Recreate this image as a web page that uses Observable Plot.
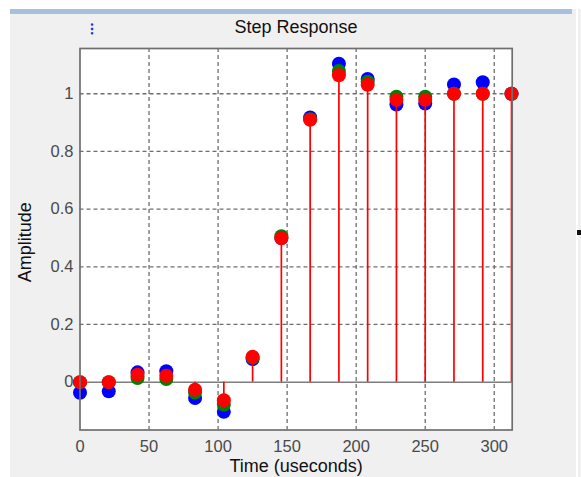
<!DOCTYPE html>
<html>
<head>
<meta charset="utf-8">
<script src="https://cdn.jsdelivr.net/npm/d3@7"></script>
<script src="https://cdn.jsdelivr.net/npm/@observablehq/plot@0.6"></script>
<style>
  html, body { margin: 0; padding: 0; background: #ffffff; }
  body { width: 581px; height: 477px; overflow: hidden; position: relative; font-family: "Liberation Sans", Arial, sans-serif; }
  #panel { position: absolute; left: 10px; top: 9px; width: 566px; height: 468px; background: #f0f0f0; }
  #bar { position: absolute; left: 10px; top: 9px; width: 562px; height: 5px; background: #a9c0dc; }
  #rstrip { position: absolute; left: 578px; top: 9px; width: 3px; height: 468px; background: #f0f0f0; }
  #rmark { position: absolute; left: 577px; top: 230px; width: 4px; height: 5px; background: #111; }
  #glyph { position: absolute; left: 90px; top: 21px; font-size: 15px; font-weight: bold; color: #1f2fe0; line-height: 16px; }
  #chart { position: absolute; left: 0; top: 0; }
</style>
</head>
<body>
<div id="panel"></div>
<div id="bar"></div>
<div id="rstrip"></div>
<div id="rmark"></div>
<div id="glyph">⁝</div>
<div id="chart"></div>
<script>
// ---- data ----
const times = [0, 20.83, 41.67, 62.5, 83.33, 104.17, 125, 145.83, 166.67, 187.5, 208.33, 229.17, 250, 270.83, 291.67, 312.5];
const blueValues  = [-0.037, -0.032, 0.034, 0.038, -0.055, -0.103, 0.080, 0.500, 0.918, 1.104, 1.051, 0.963, 0.966, 1.032, 1.040, 1.000];
const greenValues = [0.000, 0.000, 0.014, 0.011, -0.036, -0.078, 0.085, 0.506, 0.912, 1.079, 1.042, 0.990, 0.990, 1.000, 1.000, 1.000];
const redValues   = [0.000, 0.000, 0.026, 0.022, -0.026, -0.063, 0.088, 0.499, 0.910, 1.064, 1.031, 0.979, 0.979, 1.000, 1.000, 1.000];
const xTicks = [0, 50, 100, 150, 200, 250, 300];
const yTicks = [0, 0.2, 0.4, 0.6, 0.8, 1];
const xTickLabels = ["0", "50", "100", "150", "200", "250", "300"];
const yTickLabels = ["0", "0.2", "0.4", "0.6", "0.8", "1"];
const titleText = "Step Response";
const xLabel = "Time (useconds)";
const yLabel = "Amplitude";

const series = [
  {name: "blue", color: "#0000ff", values: blueValues, stems: false},
  {name: "green", color: "#008000", values: greenValues, stems: false},
  {name: "red", color: "#ff0000", values: redValues, stems: true}
];
const rows = s => times.map((t, i) => ({t, v: s.values[i]}));

// blue and green stems lie fully under the red ones in the reference, so only red stems are drawn
const seriesMarks = series.flatMap(s => [
  ...(s.stems ? [Plot.ruleX(rows(s), {x: "t", y1: 0, y2: "v", stroke: s.color, strokeWidth: 1.7})] : []),
  Plot.dot(rows(s), {x: "t", y: "v", r: 7, fill: s.color, stroke: "none"})
]);

const font = "'Liberation Sans', Arial, sans-serif";

const chart = Plot.plot({
  width: 581,
  height: 477,
  marginLeft: 79.5,
  marginRight: 69.3,
  marginTop: 48,
  marginBottom: 47.5,
  style: {background: "transparent", fontFamily: font, overflow: "visible"},
  x: {domain: [0, 313]},
  y: {domain: [-0.166, 1.157]},
  marks: [
    Plot.frame({fill: "white", stroke: "none"}),
    Plot.gridX(xTicks.filter(d => d > 0), {stroke: "#6e6e6e", strokeOpacity: 1, strokeWidth: 1.3, strokeDasharray: "4,3"}),
    Plot.gridY(yTicks.filter(d => d > 0), {stroke: "#6e6e6e", strokeOpacity: 1, strokeWidth: 1.3, strokeDasharray: "4,3"}),
    Plot.ruleY([0], {stroke: "#7d7d7d", strokeWidth: 1.5}),
    ...seriesMarks,
    Plot.frame({stroke: "#6f6f6f", strokeWidth: 1.7}),
    Plot.axisX(xTicks, {tickSize: 0, tickPadding: 10, fontSize: 16.5, fill: "#4a4a4a", tickFormat: (d, i) => xTickLabels[i], label: null}),
    Plot.axisY(yTicks, {tickSize: 0, tickPadding: 6.5, fontSize: 16.5, fill: "#4a4a4a", tickFormat: (d, i) => yTickLabels[i], label: null}),
    Plot.text([titleText], {frameAnchor: "top", lineAnchor: "middle", textAnchor: "middle", dy: -21, fontSize: 18, fill: "#111", text: d => d}),
    Plot.text([xLabel], {frameAnchor: "bottom", lineAnchor: "middle", textAnchor: "middle", dy: 36.5, fontSize: 18, fill: "#111", text: d => d}),
    Plot.text([yLabel], {frameAnchor: "left", lineAnchor: "middle", textAnchor: "middle", dx: -54.5, dy: 3, rotate: -90, fontSize: 18, fill: "#111", text: d => d})
  ]
});
document.getElementById("chart").appendChild(chart);
</script>
</body>
</html>
